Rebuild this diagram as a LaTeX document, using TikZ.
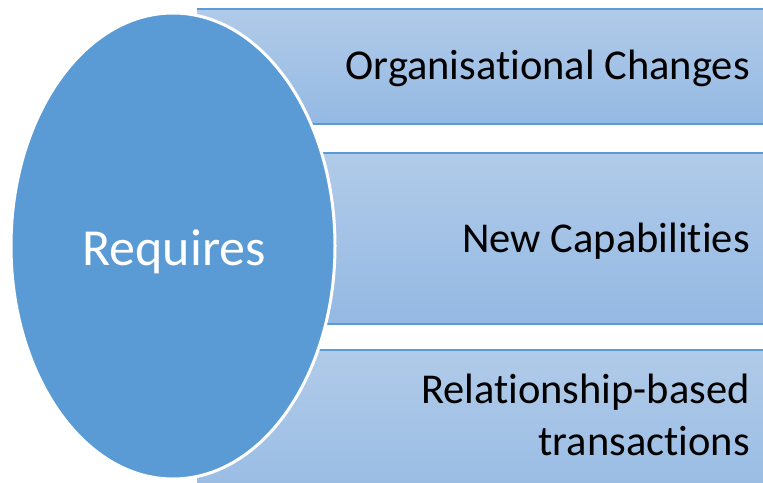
\documentclass[tikz,border=0pt]{standalone}
\usepackage{fontspec}
\setmainfont[Ligatures=NoCommon]{Carlito}
\definecolor{ovalblue}{RGB}{91,155,213}
\definecolor{barlight}{RGB}{177,203,233}
\definecolor{bardark}{RGB}{148,185,227}
\tikzset{
	barbox/.style={top color=barlight, bottom color=bardark},
	baredge/.style={draw=ovalblue, line width=2.5pt},
	oval/.style={fill=ovalblue, draw=white, line width=3pt},
	bartext/.style={font=\fontsize{42.5}{52}\selectfont, text=black, inner sep=0pt, anchor=base east, align=right},
	ovaltext/.style={font=\fontsize{52}{60}\selectfont, text=white, inner sep=0pt, anchor=base}
}

\begin{document}
\begin{tikzpicture}[x=1pt, y=-1pt]
		%%%%% START %%%%%
		\useasboundingbox (0, 0) rectangle (763, 482);
		
		% the three bars, with edge lines top and bottom
		\path[barbox] (197, 9) rectangle (775, 124);
		\draw[baredge] (197, 9) -- (775, 9) (197, 124) -- (775, 124);
		\path[barbox] (197, 153) rectangle (775, 324);
		\draw[baredge] (197, 153) -- (775, 153) (197, 324) -- (775, 324);
		\path[barbox] (197, 350) rectangle (775, 522);
		\draw[baredge] (197, 350) -- (775, 350);
		
		% the oval on top
		\path[oval] (173, 246) ellipse (162 and 233);
		
		\node[ovaltext] (requires) at (174, 265) {Requires};
		
		\node[bartext] (orgchanges) at (750, 79) {Organisational Changes};
		\node[bartext] (newcap) at (750, 252) {New Capabilities};
		\node[bartext] (relation) at (750, 403) {Relationship-based};
		\node[bartext] (trans) at (750, 455) {transactions};
		%%%%% END %%%%%
	\end{tikzpicture}
\end{document}
